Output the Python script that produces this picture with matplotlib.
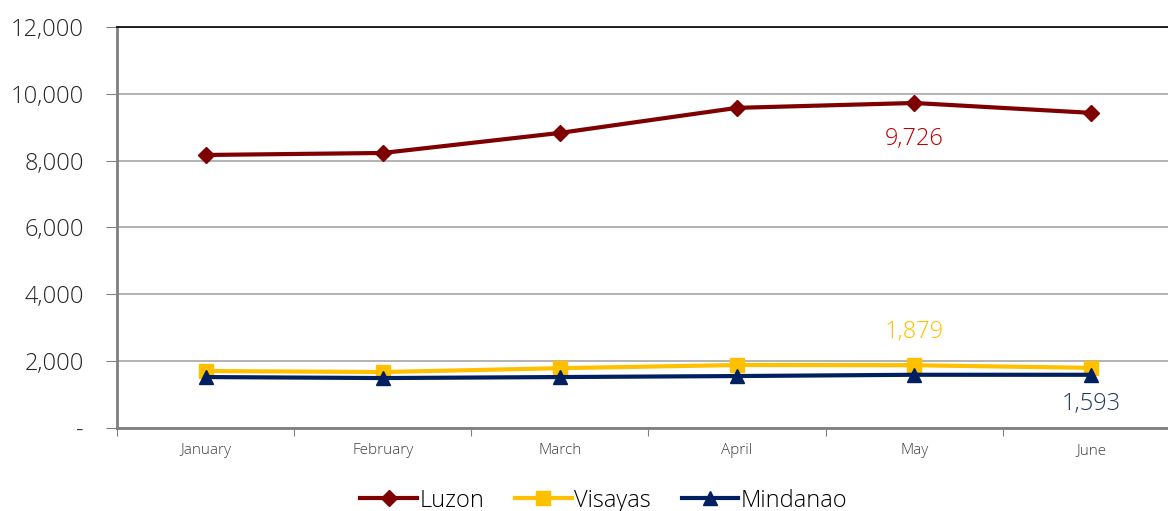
import matplotlib
matplotlib.use("Agg")
from matplotlib import pyplot as plt
from matplotlib.ticker import FuncFormatter

plt.rcParams['font.family'] = ['Open Sans', 'DejaVu Sans']

months = ["January", "February", "March", "April", "May", "June"]
luzon = [8170, 8230, 8830, 9580, 9726, 9430]
visayas = [1705, 1675, 1790, 1885, 1879, 1800]
mindanao = [1525, 1495, 1525, 1555, 1593, 1593]

fig = plt.figure(figsize=(11.68, 5.11), dpi=100)
ax = fig.add_axes([0.1002, 0.1624, 0.910, 0.7848])

xs = list(range(len(months)))
ax.plot(xs, luzon, '-', color='#7f0000', lw=3, marker='D', ms=8, label='Luzon')
ax.plot(xs, visayas, '-', color='#ffc000', lw=3, marker='s', ms=10, label='Visayas')
ax.plot(xs, mindanao, '-', color='#002060', lw=3, marker='^', ms=10, label='Mindanao')

# data labels
ax.annotate(f"{luzon[4]:,}", (4, luzon[4]), xytext=(0, -26), textcoords='offset points',
            ha='center', va='center', fontsize=17, color='#c00000', fontweight='light')
ax.annotate(f"{visayas[4]:,}", (4, visayas[4]), xytext=(0, 24), textcoords='offset points',
            ha='center', va='center', fontsize=17, color='#ffc000', fontweight='light')
ax.annotate(f"{mindanao[5]:,}", (5, mindanao[5]), xytext=(0, -21), textcoords='offset points',
            ha='center', va='center', fontsize=17, color='#1f3864', fontweight='light')

ax.set_ylim(0, 12000)
ax.set_yticks(range(0, 12001, 2000))
ax.yaxis.set_major_formatter(FuncFormatter(lambda v, p: '-' if v == 0 else f"{int(v):,}"))
ax.set_xlim(-0.5, 5.5)
ax.set_xticks([x - 0.5 for x in range(7)])
ax.set_xticklabels([])
ax.set_xticks(xs, minor=True)
ax.set_xticklabels(months, minor=True)
ax.tick_params(axis='x', which='minor', length=0, labelsize=11, labelcolor='#404040', pad=11)
ax.tick_params(axis='x', which='major', length=6, color='#808080', direction='out')
ax.tick_params(axis='y', length=8, color='#808080', labelsize=17, labelcolor='#262626', pad=16)
for lbl in ax.get_yticklabels() + ax.get_xticklabels(minor=True):
    lbl.set_fontweight('light')

ax.grid(axis='y', color='#a6a6a6', lw=1.2)
ax.set_axisbelow(True)
ax.spines['top'].set_color('black')
ax.spines['top'].set_linewidth(1.2)
ax.spines['left'].set_color('#808080')
ax.spines['left'].set_linewidth(2)
ax.spines['bottom'].set_color('#808080')
ax.spines['bottom'].set_linewidth(2)
ax.spines['right'].set_visible(False)

leg = fig.legend(loc='lower center', bbox_to_anchor=(0.517, -0.045), ncol=3, frameon=False,
                 fontsize=17, handlelength=2.4, columnspacing=1.3, handletextpad=0.1)
for t in leg.get_texts():
    t.set_fontweight('light')

fig.savefig("out.png", dpi=100)
